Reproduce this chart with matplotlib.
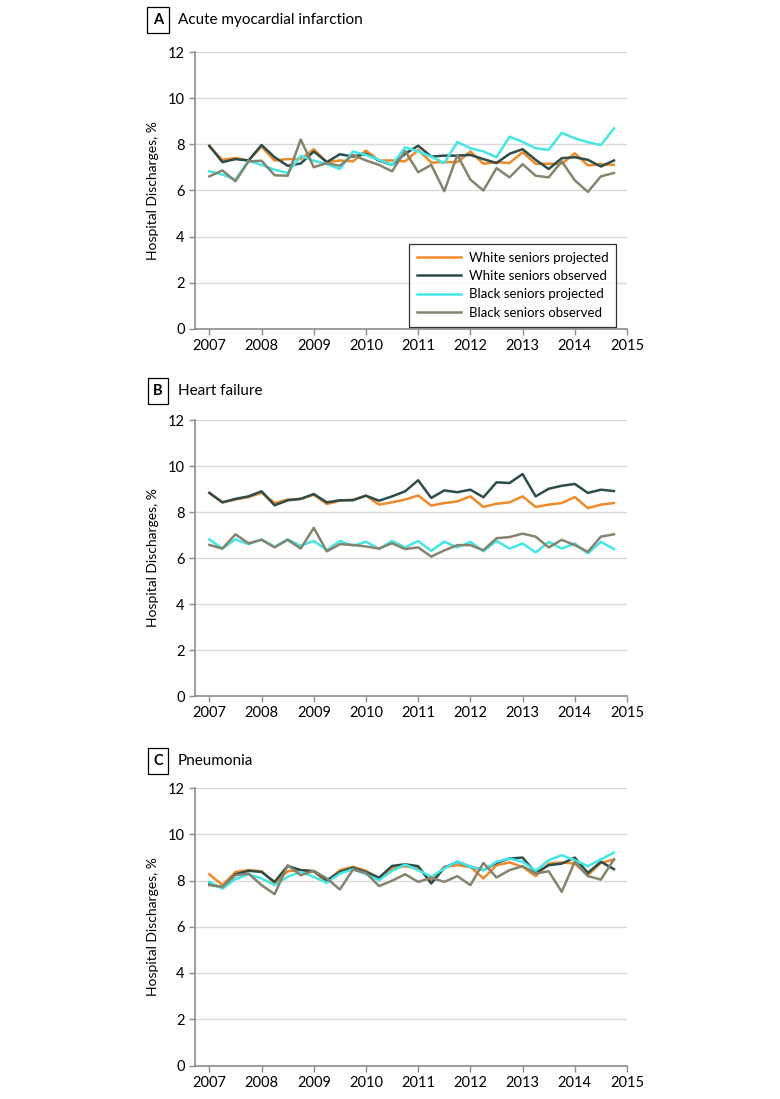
import numpy as np
import matplotlib
matplotlib.use("Agg")
import matplotlib.pyplot as plt

plt.rcParams['font.family'] = ['Lato', 'DejaVu Sans']

# quarterly time points, 2007 Q1 .. 2014 Q4
quarters = np.arange(2007, 2015, 0.25)

# A: acute myocardial infarction
ami_white_proj = [7.90, 7.33, 7.41, 7.30, 7.90, 7.30, 7.36, 7.36, 7.79, 7.23, 7.30, 7.26, 7.73, 7.30, 7.30, 7.26,
                  7.76, 7.21, 7.23, 7.23, 7.69, 7.16, 7.23, 7.19, 7.66, 7.16, 7.16, 7.16, 7.61, 7.09, 7.14, 7.11]
ami_white_obs = [7.94, 7.23, 7.36, 7.30, 7.97, 7.44, 7.07, 7.17, 7.69, 7.23, 7.57, 7.47, 7.59, 7.30, 7.11, 7.59,
                 7.94, 7.47, 7.51, 7.51, 7.54, 7.36, 7.19, 7.59, 7.79, 7.33, 6.93, 7.40, 7.44, 7.33, 7.04, 7.30]
ami_black_proj = [6.83, 6.69, 6.47, 7.29, 7.11, 6.90, 6.76, 7.50, 7.29, 7.14, 6.93, 7.69, 7.54, 7.33, 7.11, 7.87,
                  7.69, 7.47, 7.19, 8.10, 7.83, 7.69, 7.44, 8.33, 8.11, 7.83, 7.76, 8.50, 8.26, 8.09, 7.97, 8.69]
ami_black_obs = [6.61, 6.87, 6.40, 7.26, 7.29, 6.66, 6.64, 8.21, 7.01, 7.19, 7.07, 7.54, 7.30, 7.11, 6.83, 7.71,
                 6.79, 7.11, 5.97, 7.54, 6.47, 6.00, 6.97, 6.57, 7.14, 6.64, 6.57, 7.26, 6.44, 5.94, 6.61, 6.76]

# B: heart failure
hf_white_proj = [8.83, 8.42, 8.54, 8.65, 8.83, 8.39, 8.54, 8.57, 8.75, 8.35, 8.49, 8.54, 8.71, 8.32, 8.42, 8.54,
                 8.72, 8.28, 8.39, 8.46, 8.68, 8.22, 8.36, 8.42, 8.68, 8.22, 8.32, 8.39, 8.65, 8.17, 8.32, 8.39]
hf_white_obs = [8.83, 8.42, 8.57, 8.68, 8.90, 8.29, 8.51, 8.57, 8.78, 8.42, 8.51, 8.51, 8.71, 8.49, 8.68, 8.90,
                9.38, 8.61, 8.94, 8.86, 8.97, 8.64, 9.29, 9.26, 9.65, 8.68, 9.01, 9.14, 9.22, 8.83, 8.97, 8.91]
hf_black_proj = [6.81, 6.41, 6.81, 6.60, 6.81, 6.49, 6.81, 6.53, 6.74, 6.34, 6.74, 6.53, 6.71, 6.39, 6.74, 6.46,
                 6.74, 6.31, 6.71, 6.46, 6.70, 6.29, 6.74, 6.41, 6.63, 6.24, 6.70, 6.41, 6.63, 6.20, 6.70, 6.39]
hf_black_obs = [6.57, 6.41, 7.03, 6.64, 6.79, 6.46, 6.79, 6.41, 7.31, 6.29, 6.60, 6.57, 6.50, 6.41, 6.64, 6.39,
                6.46, 6.06, 6.33, 6.56, 6.56, 6.34, 6.86, 6.91, 7.06, 6.93, 6.46, 6.79, 6.56, 6.27, 6.93, 7.03]

# C: pneumonia
pn_white_proj = [8.27, 7.80, 8.37, 8.45, 8.40, 7.87, 8.40, 8.45, 8.40, 7.94, 8.45, 8.59, 8.42, 8.09, 8.52, 8.62,
                 8.52, 8.01, 8.59, 8.66, 8.59, 8.09, 8.66, 8.78, 8.59, 8.19, 8.73, 8.78, 8.73, 8.23, 8.76, 8.91]
pn_white_obs = [7.84, 7.70, 8.27, 8.42, 8.37, 7.94, 8.63, 8.45, 8.40, 8.01, 8.37, 8.55, 8.37, 8.12, 8.63, 8.70,
                8.62, 7.87, 8.55, 8.81, 8.59, 8.45, 8.76, 8.95, 8.99, 8.33, 8.66, 8.73, 8.99, 8.33, 8.81, 8.49]
pn_black_proj = [7.94, 7.65, 8.06, 8.27, 8.09, 7.80, 8.16, 8.37, 8.16, 7.90, 8.30, 8.49, 8.27, 8.01, 8.42, 8.69,
                 8.45, 8.16, 8.52, 8.83, 8.59, 8.45, 8.81, 8.95, 8.81, 8.42, 8.88, 9.09, 8.88, 8.62, 8.91, 9.21]
pn_black_obs = [7.80, 7.73, 8.23, 8.30, 7.80, 7.41, 8.66, 8.23, 8.42, 8.09, 7.61, 8.47, 8.33, 7.76, 7.99, 8.27,
                7.94, 8.12, 7.94, 8.19, 7.80, 8.76, 8.13, 8.45, 8.62, 8.30, 8.40, 7.51, 8.81, 8.19, 8.04, 8.91]

series_labels = ['White seniors projected', 'White seniors observed',
                 'Black seniors projected', 'Black seniors observed']
series_colors = ['#EE8A2A', '#2D4D4A', '#45E6E6', '#84846F']

panels = [
    ('A', 'Acute myocardial infarction', [ami_white_proj, ami_white_obs, ami_black_proj, ami_black_obs]),
    ('B', 'Heart failure', [hf_white_proj, hf_white_obs, hf_black_proj, hf_black_obs]),
    ('C', 'Pneumonia', [pn_white_proj, pn_white_obs, pn_black_proj, pn_black_obs]),
]

W, H = 780, 1099
fig = plt.figure(figsize=(W / 100, H / 100), dpi=100)

# axes boxes in pixels: (top, bottom)
boxes = [(52, 329), (420, 696), (788, 1065.5)]
title_y = [20, 391, 761]
left, right = 195, 627

for (letter, title, data), (top, bot), ty in zip(panels, boxes, title_y):
    ax = fig.add_axes([left / W, 1 - bot / H, (right - left) / W, (bot - top) / H])
    for vals, lab, col in zip(data, series_labels, series_colors):
        ax.plot(quarters, vals, color=col, lw=1.8, label=lab)
    ax.set_xlim(2006.725, 2015)
    ax.set_ylim(0, 12)
    ax.set_xticks(range(2007, 2016))
    ax.set_yticks(range(0, 13, 2))
    ax.yaxis.grid(True, color='#D9D9D9', lw=1)
    ax.set_axisbelow(True)
    for s in ['top', 'right']:
        ax.spines[s].set_visible(False)
    for s in ['left', 'bottom']:
        ax.spines[s].set_color('#8C8C8C')
        ax.spines[s].set_linewidth(1.2)
    ax.tick_params(colors='#8C8C8C', labelcolor='black', labelsize=10.5, length=4, width=1)
    ax.set_ylabel('Hospital Discharges, %', fontsize=10, labelpad=6)

    fig.text(158 / W, 1 - ty / H, letter, fontsize=10.5, fontweight='bold', ha='center', va='center',
             bbox=dict(boxstyle='square,pad=0.38', fc='white', ec='black', lw=0.9))
    fig.text(178 / W, 1 - ty / H, title, fontsize=11, ha='left', va='center')

    if letter == 'A':
        leg = ax.legend(loc='lower right', bbox_to_anchor=(0.99, -0.015), fontsize=9.5, frameon=True,
                        fancybox=False, edgecolor='black', handlelength=3.3, borderpad=0.6,
                        labelspacing=0.48, handletextpad=0.6)
        leg.get_frame().set_linewidth(0.9)

fig.savefig('out.png', dpi=100)
